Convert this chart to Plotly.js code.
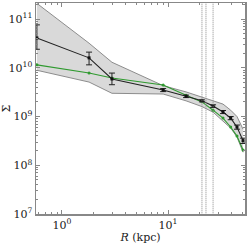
<!DOCTYPE html>
<html><head><meta charset="utf-8">
<script src="https://cdn.plot.ly/plotly-3.0.1.min.js"></script>
<style>html,body{margin:0;padding:0;background:#fff}</style>
</head><body><div id="chart" style="width:249px;height:244px"></div>
<script>
const radius = [0.58, 1.8, 2.96, 9.0, 14.8, 20.9, 26.6, 33, 39, 44.7, 51];
const sigmaObs = [4.1e10, 1.6e10, 5.9e9, 3.5e9, 2.6e9, 2.1e9, 1.64e9, 1.24e9, 9.3e8, 6.1e8, 3.2e8];
const sigmaObsHi = [7.6e10, 2.1e10, 7.8e9, 3.75e9, 2.75e9, 2.2e9, 1.74e9, 1.33e9, 1.0e9, 6.7e8, 3.6e8];
const sigmaObsLo = [2.4e10, 1.15e10, 4.5e9, 3.25e9, 2.45e9, 2.0e9, 1.54e9, 1.15e9, 8.6e8, 5.5e8, 2.8e8];
const sigmaModel = [1.15e10, 7.8e9, 6.2e9, 4.45e9, 2.75e9, 2.0e9, 1.35e9, 9.3e8, 6.1e8, 4.0e8, 2.05e8];
const bandUpper = [2.1e11, 3.2e10, 1.3e10, 4.3e9, 3.2e9, 2.5e9, 2.15e9, 1.8e9, 1.35e9, 1.0e9, 5.5e8];
const bandLower = [8.9e9, 5.1e9, 3.0e9, 2.9e9, 2.1e9, 1.6e9, 1.23e9, 7.9e8, 5.8e8, 3.8e8, 1.85e8];
const vLines = [20.9, 22.8, 26.6];
const xTickVals = [1, 10];
const xTickText = ['10<sup>0</sup>', '10<sup>1</sup>'];
const yTickVals = [1e7, 1e8, 1e9, 1e10, 1e11];
const yTickText = ['10<sup>7</sup>', '10<sup>8</sup>', '10<sup>9</sup>', '10<sup>10</sup>', '10<sup>11</sup>'];

function minorLog(lo, hi) {
  const v = [];
  for (let e = lo; e <= hi; e++) for (let m = 2; m <= 9; m++) v.push(m * Math.pow(10, e));
  return v;
}

const traces = [
  {x: radius, y: bandLower, mode: 'lines', line: {color: '#8c8c8c', width: 1}, hoverinfo: 'skip', showlegend: false},
  {x: radius, y: bandUpper, mode: 'lines', fill: 'tonexty', fillcolor: '#d9d9d9', line: {color: '#8c8c8c', width: 1}, hoverinfo: 'skip', showlegend: false},
  {x: radius, y: sigmaModel, mode: 'lines+markers', line: {color: '#2f9a2f', width: 1.1}, marker: {color: '#2f9a2f', size: 3}, showlegend: false},
  {x: radius, y: sigmaObs, mode: 'lines+markers', line: {color: '#222', width: 1.1}, marker: {color: '#111', size: 3, symbol: 'square'},
   error_y: {type: 'data', symmetric: false,
     array: sigmaObsHi.map((v, i) => v - sigmaObs[i]),
     arrayminus: sigmaObs.map((v, i) => v - sigmaObsLo[i]),
     color: '#222', thickness: 1, width: 3}, showlegend: false}
];
vLines.forEach(function (xv) {
  traces.push({x: [xv, xv], y: [1e6, 1e12], mode: 'lines', line: {color: '#8a8a8a', width: 1, dash: '1px,1px'}, hoverinfo: 'skip', showlegend: false});
});

const axisCommon = {
  type: 'log', showgrid: false, zeroline: false, showline: true, linecolor: '#888', linewidth: 1.5,
  mirror: 'ticks', ticks: 'inside', ticklen: 4, tickcolor: '#888', tickwidth: 1,
  tickfont: {family: 'DejaVu Serif', size: 11, color: '#222'}
};

const layout = {
  width: 249, height: 244,
  margin: {l: 36, r: 4, t: 3, b: 30},
  paper_bgcolor: '#fff', plot_bgcolor: '#fff',
  font: {family: 'DejaVu Serif', color: '#222'},
  xaxis: Object.assign({}, axisCommon, {
    range: [-0.245, 1.726], tickmode: 'array', tickvals: xTickVals, ticktext: xTickText,
    minor: {tickmode: 'array', tickvals: minorLog(-1, 1), ticks: 'inside', ticklen: 2, tickcolor: '#888'},
    title: {text: '<i>R</i> (kpc)', font: {family: 'DejaVu Serif', size: 11, color: '#222'}, standoff: 4}
  }),
  yaxis: Object.assign({}, axisCommon, {
    range: [7, 11.33], tickmode: 'array', tickvals: yTickVals, ticktext: yTickText,
    minor: {tickmode: 'array', tickvals: minorLog(7, 11), ticks: 'inside', ticklen: 2, tickcolor: '#888'},
    title: {text: 'Σ', font: {family: 'DejaVu Serif', size: 11, color: '#222'}, standoff: 2}
  })
};

Plotly.newPlot('chart', traces, layout, {staticPlot: true, displayModeBar: false});
</script></body></html>
